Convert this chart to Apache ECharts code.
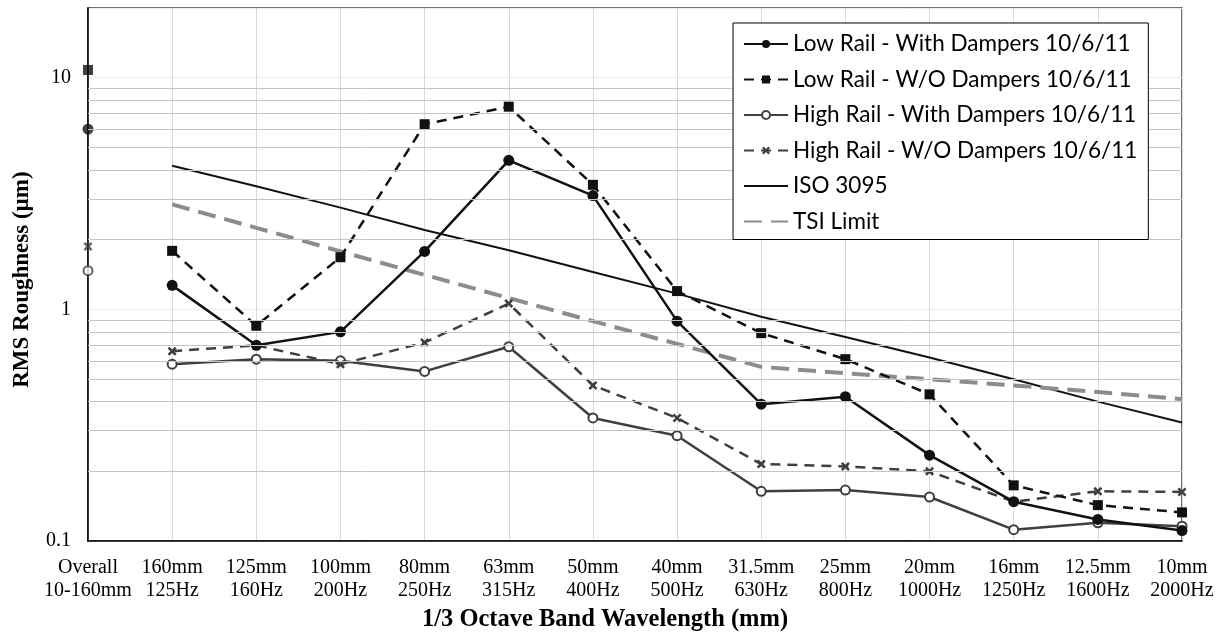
<!DOCTYPE html>
<html>
<head>
<meta charset="utf-8">
<script src="https://cdn.jsdelivr.net/npm/echarts@6/dist/echarts.min.js"></script>
<style>html,body{margin:0;padding:0;background:#fff;}#c{width:1224px;height:637px;}</style>
</head>
<body>
<div id="c"></div>
<script>
const wavelengths = ['Overall','160mm','125mm','100mm','80mm','63mm','50mm','40mm','31.5mm','25mm','20mm','16mm','12.5mm','10mm'];
const frequencies = ['10-160mm','125Hz','160Hz','200Hz','250Hz','315Hz','400Hz','500Hz','630Hz','800Hz','1000Hz','1250Hz','1600Hz','2000Hz'];

const lowWith  = [6.0, 1.27, 0.70, 0.80, 1.78, 4.4, 3.1, 0.89, 0.39, 0.42, 0.235, 0.148, 0.124, 0.111];
const lowWO    = [10.8, 1.79, 0.85, 1.68, 6.3, 7.5, 3.45, 1.2, 0.79, 0.61, 0.43, 0.174, 0.143, 0.133];
const highWith = [1.47, 0.58, 0.61, 0.60, 0.54, 0.69, 0.34, 0.285, 0.164, 0.166, 0.155, 0.112, 0.120, 0.116];
const highWO   = [1.87, 0.66, 0.70, 0.58, 0.72, 1.06, 0.47, 0.34, 0.215, 0.21, 0.20, 0.148, 0.164, 0.163];
const iso3095  = [null, 4.17, 3.4, 2.75, 2.2, 1.8, 1.45, 1.17, 0.93, 0.76, 0.62, 0.5, 0.40, 0.325];
const tsiLimit = [null, 2.84, 2.25, 1.78, 1.41, 1.12, 0.89, 0.71, 0.565, 0.53, 0.50, 0.47, 0.44, 0.41];

const minorGrid = [0.2,0.3,0.4,0.5,0.6,0.7,0.8,0.9,2,3,4,5,6,7,8,9];

const names = ['Low Rail - With Dampers 10/6/11','Low Rail - W/O Dampers 10/6/11','High Rail - With Dampers 10/6/11','High Rail - W/O Dampers 10/6/11','ISO 3095','TSI Limit'];
const categories = wavelengths.map((w,i)=>w+'\n'+frequencies[i]);

const crossPath = 'path://M2,0 L5,3 L8,0 L10,2 L7,5 L10,8 L8,10 L5,7 L2,10 L0,8 L3,5 L0,2 Z';
const dark = '#111111', grey = '#3f3f3f';

function lineSeries(name, data, color, width, dash, symbol, size, extra) {
  const s = {
    name, type:'line', data: [null].concat(data.slice(1)),
    symbol: symbol || 'none', symbolSize: size || 0, showSymbol: !!symbol,
    lineStyle:{color, width, type: dash || 'solid'},
    itemStyle:{color}, z: 3, animation:false
  };
  return Object.assign(s, extra || {});
}
function overall(name, data, color, symbol, size, extra) {
  return Object.assign({
    name, type:'scatter', data:[[0, data[0]]], symbol, symbolSize:size,
    itemStyle:{color}, z:4, animation:false, clip:false
  }, extra||{});
}

const series = [
  {name:'_grid', type:'line', data: categories.map(()=>null), silent:true, z:1, animation:false,
   markLine:{silent:true, symbol:['none','none'], label:{show:false}, animation:false,
     lineStyle:{color:'#c4c4c4', type:'solid', width:1},
     data: minorGrid.map(v=>({yAxis:v}))}},
  lineSeries(names[4], iso3095, dark, 2, 'solid'),
  lineSeries(names[5], tsiLimit, '#8c8c8c', 4, [18,9]),
  lineSeries(names[2], highWith, grey, 2.5, 'solid', 'emptyCircle', 9, {itemStyle:{color:grey, borderWidth:2}}),
  lineSeries(names[3], highWO, grey, 2.5, [10,7], crossPath, 9),
  lineSeries(names[0], lowWith, dark, 2.5, 'solid', 'circle', 11),
  lineSeries(names[1], lowWO, dark, 2.5, [10,7], 'rect', 10),
  overall('o1', highWith, grey, 'emptyCircle', 9, {itemStyle:{color:grey, borderWidth:2}}),
  overall('o2', highWO, grey, crossPath, 9),
  overall('o3', lowWith, dark, 'circle', 11),
  overall('o4', lowWO, dark, 'rect', 10)
];

const legendData = names.map((n,i)=> i>=4 ? {name:n, itemStyle:{opacity:0}} : {name:n});

const chart = echarts.init(document.getElementById('c'), null, {renderer:'canvas'});
chart.setOption({
  backgroundColor:'#fff',
  animation:false,
  grid:{left:88, right:42, top:8, bottom:84, show:true, borderColor:'#404040', borderWidth:1.5, containLabel:false},
  legend:{
    data: legendData, orient:'vertical', left:733, top:23, z:100, zlevel:1,
    backgroundColor:'#fff', borderColor:'#000', borderWidth:1,
    padding:[8,11,5,10], itemGap:9.5, itemWidth:44, itemHeight:10,
    textStyle:{fontFamily:'Lato', fontSize:22.5, color:'#000', lineHeight:26}
  },
  xAxis:{
    type:'category', data:categories, boundaryGap:false,
    axisLine:{lineStyle:{color:'#000', width:1.5}},
    axisTick:{show:false},
    axisLabel:{interval:0, margin:15, fontFamily:'Liberation Serif', fontSize:20, lineHeight:23, color:'#000'},
    splitLine:{show:true, interval:0, lineStyle:{color:'#d9d9d9', width:1}},
    name:'1/3 Octave Band Wavelength (mm)', nameLocation:'middle', nameGap:57,
    nameTextStyle:{fontFamily:'Liberation Serif', fontWeight:'bold', fontSize:24.5, color:'#000', padding:[0,60,0,0]}
  },
  yAxis:{
    type:'log', logBase:10, min:0.1, max:20,
    axisLine:{show:true, lineStyle:{color:'#000', width:1.5}},
    axisTick:{show:false},
    axisLabel:{margin:17, fontFamily:'Liberation Serif', fontSize:20, color:'#000',
      formatter:function(v){const l=Math.log10(v); return Math.abs(l-Math.round(l))<1e-6 ? String(+v.toPrecision(3)) : '';}},
    splitLine:{show:true, lineStyle:{color:'#ececec', width:1}},
    name:'RMS Roughness (µm)', nameLocation:'middle', nameGap:54, nameRotate:90,
    nameTextStyle:{fontFamily:'Liberation Serif', fontWeight:'bold', fontSize:23, color:'#000', padding:[0,10,0,0]}
  },
  series
});
</script>
</body>
</html>
